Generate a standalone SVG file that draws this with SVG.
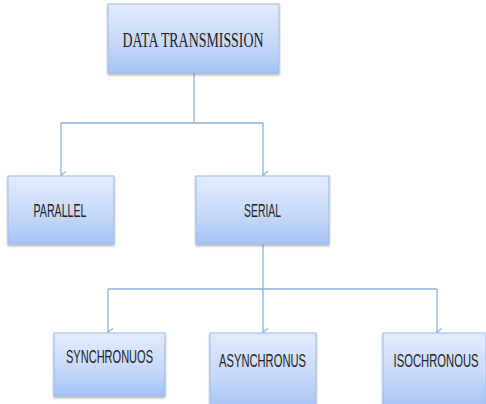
<svg xmlns="http://www.w3.org/2000/svg" width="486" height="404" viewBox="0 0 486 404">
<defs>
<linearGradient id="g" x1="0" y1="0" x2="0" y2="1">
<stop offset="0" stop-color="#e3ecfc"/>
<stop offset="0.6" stop-color="#c5d7f8"/>
<stop offset="1" stop-color="#a5c2f3"/>
</linearGradient>
<filter id="sh" x="-10%" y="-10%" width="120%" height="130%">
<feDropShadow dx="0" dy="1.5" stdDeviation="1" flood-color="#000" flood-opacity="0.35"/>
</filter>
<marker id="ar" markerWidth="10" markerHeight="10" refX="5" refY="8" orient="auto-start-reverse" markerUnits="userSpaceOnUse" viewBox="0 0 10 10">
<path d="M1.5,3 L5,8 L8.5,3" fill="none" stroke="#8eb1de" stroke-width="1.2"/>
</marker>
</defs>
<style>
.box{fill:url(#g);stroke:#9dbbe6;stroke-width:1;filter:url(#sh)}
.t{font-family:"Liberation Sans",Arial,sans-serif;font-size:11px;fill:#222;text-anchor:middle}
.ts{font-family:"Liberation Serif","Times New Roman",serif;font-size:14px;fill:#222;text-anchor:middle}
.c{fill:none;stroke:#8eb1de;stroke-width:1.3}
</style>
<g id="connectors">
<path class="c" d="M194,73 V123"/>
<path class="c" d="M61,123 H263"/>
<path class="c" d="M61,123 V175" marker-end="url(#ar)"/>
<path class="c" d="M263,123 V175" marker-end="url(#ar)"/>
<path class="c" d="M263,244 V332" marker-end="url(#ar)"/>
<path class="c" d="M108,289 H437"/>
<path class="c" d="M108,289 V332" marker-end="url(#ar)"/>
<path class="c" d="M437,289 V332" marker-end="url(#ar)"/>
</g>
<g id="data-transmission">
<rect class="box" x="108" y="4" width="171" height="69"/>
<g transform="translate(193,47) scale(1,1.45)"><text class="ts" x="0" y="0" textLength="141" lengthAdjust="spacingAndGlyphs">DATA TRANSMISSION</text></g>
</g>
<g id="parallel">
<rect class="box" x="8" y="176" width="106" height="68"/>
<g transform="translate(60,217) scale(1,1.6)"><text class="t" x="0" y="0" textLength="53" lengthAdjust="spacingAndGlyphs">PARALLEL</text></g>
</g>
<g id="serial">
<rect class="box" x="196" y="176" width="133" height="68"/>
<g transform="translate(262.5,217) scale(1,1.6)"><text class="t" x="0" y="0" textLength="37" lengthAdjust="spacingAndGlyphs">SERIAL</text></g>
</g>
<g id="synchronuos">
<rect class="box" x="54" y="333" width="111" height="63"/>
<g transform="translate(109.5,363) scale(1,1.6)"><text class="t" x="0" y="0" textLength="87" lengthAdjust="spacingAndGlyphs">SYNCHRONUOS</text></g>
</g>
<g id="asynchronus">
<rect class="box" x="210" y="333" width="106" height="76"/>
<g transform="translate(262.5,367) scale(1,1.6)"><text class="t" x="0" y="0" textLength="87" lengthAdjust="spacingAndGlyphs">ASYNCHRONUS</text></g>
</g>
<g id="isochronous">
<rect class="box" x="383" y="333" width="103" height="76"/>
<g transform="translate(436,367) scale(1,1.6)"><text class="t" x="0" y="0" textLength="85" lengthAdjust="spacingAndGlyphs">ISOCHRONOUS</text></g>
</g>
</svg>
